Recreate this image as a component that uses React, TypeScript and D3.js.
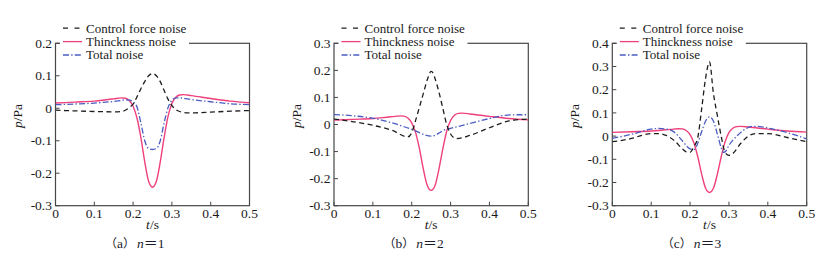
import React from "react";
import * as d3 from "d3";

// ---------- data ----------
const xTicks = [0, 0.1, 0.2, 0.3, 0.4, 0.5];
const xTickLabels = ["0", "0.1", "0.2", "0.3", "0.4", "0.5"];

const seriesNames = ["Control force noise", "Thinckness noise", "Total noise"];

// Thickness noise (same in every panel)
const tThick = [0, 0.05, 0.1, 0.13, 0.15, 0.17, 0.18, 0.19, 0.2, 0.21, 0.22, 0.23, 0.24, 0.25, 0.26, 0.27, 0.28, 0.29, 0.3, 0.31, 0.32, 0.33, 0.35, 0.4, 0.45, 0.5];
const thicknessNoise = [0.016, 0.019, 0.022, 0.026, 0.029, 0.032, 0.031, 0.024, 0.006, -0.03, -0.09, -0.165, -0.225, -0.243, -0.225, -0.165, -0.09, -0.025, 0.015, 0.034, 0.041, 0.042, 0.039, 0.03, 0.022, 0.017];

// (a) n = 1
const tCtrlA = [0, 0.05, 0.1, 0.15, 0.17, 0.18, 0.19, 0.2, 0.21, 0.22, 0.23, 0.24, 0.25, 0.26, 0.27, 0.28, 0.29, 0.3, 0.31, 0.32, 0.34, 0.36, 0.4, 0.45, 0.5];
const ctrlA = [-0.006, -0.008, -0.01, -0.011, -0.01, -0.006, 0.002, 0.013, 0.035, 0.06, 0.082, 0.1, 0.107, 0.1, 0.082, 0.055, 0.028, 0.008, -0.004, -0.01, -0.014, -0.014, -0.012, -0.009, -0.007];
const tTotA = [0, 0.05, 0.1, 0.15, 0.17, 0.18, 0.19, 0.2, 0.21, 0.22, 0.23, 0.24, 0.25, 0.26, 0.27, 0.28, 0.29, 0.3, 0.31, 0.32, 0.35, 0.4, 0.45, 0.5];
const totA = [0.011, 0.013, 0.016, 0.021, 0.024, 0.026, 0.025, 0.02, 0.004, -0.045, -0.1, -0.124, -0.127, -0.124, -0.1, -0.045, 0.002, 0.024, 0.032, 0.032, 0.027, 0.02, 0.014, 0.011];

// (b) n = 2
const tCtrlB = [0, 0.05, 0.1, 0.15, 0.19, 0.2, 0.21, 0.22, 0.23, 0.24, 0.25, 0.255, 0.26, 0.27, 0.28, 0.29, 0.3, 0.31, 0.315, 0.35, 0.4, 0.45, 0.5];
const ctrlB = [0.02, 0.01, -0.003, -0.022, -0.046, -0.03, 0.015, 0.065, 0.115, 0.165, 0.196, 0.19, 0.17, 0.12, 0.06, 0.0, -0.035, -0.05, -0.052, -0.04, -0.012, 0.013, 0.02];
const tTotB = [0, 0.05, 0.1, 0.15, 0.2, 0.25, 0.29, 0.3, 0.35, 0.4, 0.44, 0.47, 0.5];
const totB = [0.037, 0.032, 0.023, 0.006, -0.018, -0.043, -0.017, -0.014, 0.004, 0.022, 0.034, 0.036, 0.036];

// (c) n = 3
const tCtrlC = [0, 0.05, 0.08, 0.1, 0.12, 0.14, 0.16, 0.18, 0.19, 0.2, 0.21, 0.22, 0.23, 0.24, 0.25, 0.26, 0.27, 0.28, 0.29, 0.3, 0.31, 0.33, 0.35, 0.37, 0.4, 0.45, 0.5];
const ctrlC = [-0.024, -0.01, 0.005, 0.011, 0.011, 0.002, -0.02, -0.055, -0.068, -0.07, -0.045, -0.005, 0.12, 0.25, 0.32, 0.185, 0.09, 0.0, -0.07, -0.083, -0.075, -0.032, 0.0, 0.011, 0.011, -0.006, -0.024];
const tTotC = [0, 0.05, 0.1, 0.12, 0.14, 0.16, 0.18, 0.2, 0.21, 0.22, 0.23, 0.24, 0.25, 0.26, 0.27, 0.28, 0.285, 0.29, 0.3, 0.32, 0.34, 0.36, 0.38, 0.4, 0.45, 0.5];
const totC = [-0.01, 0.008, 0.03, 0.033, 0.03, 0.016, -0.02, -0.055, -0.058, -0.03, 0.02, 0.065, 0.083, 0.065, 0.01, -0.05, -0.07, -0.068, -0.04, 0.0, 0.028, 0.042, 0.041, 0.035, 0.015, -0.012];

const yTicksA = [0.2, 0.1, 0, -0.1, -0.2, -0.3];
const yTickLabelsA = ["0.2", "0.1", "0", "-0.1", "-0.2", "-0.3"];
const yTicksB = [0.3, 0.2, 0.1, 0, -0.1, -0.2, -0.3];
const yTickLabelsB = ["0.3", "0.2", "0.1", "0", "-0.1", "-0.2", "-0.3"];
const yTicksC = [0.4, 0.3, 0.2, 0.1, 0, -0.1, -0.2, -0.3];
const yTickLabelsC = ["0.4", "0.3", "0.2", "0.1", "0", "-0.1", "-0.2", "-0.3"];

const captionLetters = ["a", "b", "c"];
const captionN = ["1", "2", "3"];

// ---------- styling / layout ----------
const W = 835;
const H = 256;
const TOP = 43.3;
const BOTTOM = 205.7;
const SERIF = "Liberation Serif, DejaVu Serif, serif";
const CJK = "Noto Sans CJK SC, sans-serif";
const C_CTRL = "#1e1e1e";
const C_THICK = "#ef3f7c";
const C_TOT = "#4a5cc2";
const C_AXIS = "#474747";
const DASH_CTRL = "5,3.5";
const DASH_CTRL_LEGEND = "5,6.5";
const DASH_TOT = "6,2.2,1.4,2.2";

type Panel = {
  left: number;
  right: number;
  yDomain: [number, number];
  yTicks: number[];
  yTickLabels: string[];
  ctrl: [number[], number[]];
  tot: [number[], number[]];
  idx: number;
};

const panels: Panel[] = [
  { left: 55.5, right: 249.5, yDomain: [-0.3, 0.2], yTicks: yTicksA, yTickLabels: yTickLabelsA, ctrl: [tCtrlA, ctrlA], tot: [tTotA, totA], idx: 0 },
  { left: 334, right: 528.3, yDomain: [-0.3, 0.3], yTicks: yTicksB, yTickLabels: yTickLabelsB, ctrl: [tCtrlB, ctrlB], tot: [tTotB, totB], idx: 1 },
  { left: 612.3, right: 806.7, yDomain: [-0.3, 0.4], yTicks: yTicksC, yTickLabels: yTickLabelsC, ctrl: [tCtrlC, ctrlC], tot: [tTotC, totC], idx: 2 },
];

const txt = (size: number): React.CSSProperties => ({ fontFamily: SERIF, fontSize: `${size}px` });

function PanelView({ p }: { p: Panel }) {
  const x = d3.scaleLinear().domain([0, 0.5]).range([p.left, p.right]);
  const y = d3.scaleLinear().domain(p.yDomain).range([BOTTOM, TOP]);
  const line = d3
    .line<[number, number]>()
    .x((d) => x(d[0]))
    .y((d) => y(d[1]))
    .curve(d3.curveMonotoneX);
  const zip = (ts: number[], vs: number[]) => ts.map((t, i) => [t, vs[i]] as [number, number]);

  const thickPath = line(zip(tThick, thicknessNoise)) || "";
  const ctrlPath = line(zip(p.ctrl[0], p.ctrl[1])) || "";
  const totPath = line(zip(p.tot[0], p.tot[1])) || "";

  const cx = (p.left + p.right) / 2;
  const legX = p.left;
  const rows = [
    { name: seriesNames[0], color: C_CTRL, dash: DASH_CTRL_LEGEND, yy: 28.2 },
    { name: seriesNames[1], color: C_THICK, dash: undefined, yy: 41.6 },
    { name: seriesNames[2], color: C_TOT, dash: DASH_TOT, yy: 55.0 },
  ];

  return (
    <g>
      <defs>
        <clipPath id={`clip${p.idx}`}>
          <rect x={p.left} y={TOP - 2} width={p.right - p.left} height={BOTTOM - TOP + 4} />
        </clipPath>
      </defs>
      {/* frame */}
      <rect x={p.left} y={TOP} width={p.right - p.left} height={BOTTOM - TOP} fill="none" stroke={C_AXIS} strokeWidth={1.2} />
      {/* y ticks */}
      {p.yTicks.map((v, i) => (
        <g key={"yt" + i}>
          <line x1={p.left} x2={p.left + 4} y1={y(v)} y2={y(v)} stroke={C_AXIS} strokeWidth={1} />
          <text x={p.left - 3.5} y={y(v) + 4.6} textAnchor="end" style={txt(13.5)} fill="#1a1a1a">
            {p.yTickLabels[i]}
          </text>
        </g>
      ))}
      {/* x ticks */}
      {xTicks.map((v, i) => (
        <g key={"xt" + i}>
          <line x1={x(v)} x2={x(v)} y1={BOTTOM} y2={BOTTOM - 4} stroke={C_AXIS} strokeWidth={1} />
          <text x={x(v)} y={218} textAnchor="middle" style={txt(13.5)} fill="#1a1a1a">
            {xTickLabels[i]}
          </text>
        </g>
      ))}
      {/* curves */}
      <g clipPath={`url(#clip${p.idx})`}>
        <path d={thickPath} fill="none" stroke={C_THICK} strokeWidth={1.4} />
        <path d={totPath} fill="none" stroke={C_TOT} strokeWidth={1.3} strokeDasharray={DASH_TOT} />
        <path d={ctrlPath} fill="none" stroke={C_CTRL} strokeWidth={1.3} strokeDasharray={DASH_CTRL} />
      </g>
      {/* legend */}
      <rect x={legX + 4.5} y={19} width={129} height={42} fill="#fff" />
      {rows.map((r, i) => (
        <g key={"lg" + i}>
          <line x1={legX + 7.5} x2={legX + 26.5} y1={r.yy} y2={r.yy} stroke={r.color} strokeWidth={1.3} strokeDasharray={r.dash} />
          <text x={legX + 30.5} y={r.yy + 4.3} style={txt(13)} fill="#1a1a1a">
            {r.name}
          </text>
        </g>
      ))}
      {/* axis labels */}
      <text x={cx} y={228.5} textAnchor="middle" style={txt(13.5)} fill="#1a1a1a">
        <tspan fontStyle="italic">t</tspan>/s
      </text>
      <text transform={`translate(${p.left - 33.5},116) rotate(-90)`} textAnchor="middle" style={txt(13.5)} fill="#1a1a1a">
        <tspan fontStyle="italic">p</tspan>/Pa
      </text>
      {/* caption */}
      <text x={p.left + 49.5} y={247.5} style={txt(13.5)} fill="#1b1b2a">
        <tspan style={{ fontFamily: CJK, fontSize: "12px" }}>（</tspan>
        <tspan>{captionLetters[p.idx]}</tspan>
        <tspan style={{ fontFamily: CJK, fontSize: "12px" }}>）</tspan>
        <tspan dx={2} fontStyle="italic">n</tspan>
        <tspan style={{ fontFamily: CJK, fontSize: "14px" }}>＝</tspan>
        <tspan>{captionN[p.idx]}</tspan>
      </text>
    </g>
  );
}

export default function App() {
  return (
    <svg width={W} height={H} viewBox={`0 0 ${W} ${H}`} style={{ position: "absolute", left: 0, top: 0, background: "#fff" }}>
      <rect x={0} y={0} width={W} height={H} fill="#fff" />
      {panels.map((p) => (
        <PanelView key={p.idx} p={p} />
      ))}
    </svg>
  );
}
